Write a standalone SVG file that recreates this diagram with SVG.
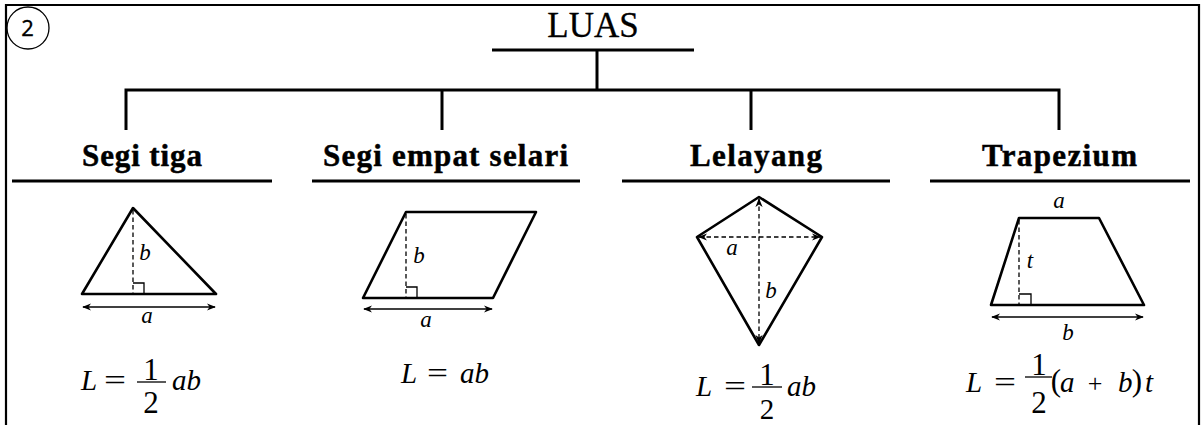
<svg xmlns="http://www.w3.org/2000/svg" width="1202" height="425" viewBox="0 0 1202 425">
<style>
.frame{fill:none;stroke:#000;stroke-width:2.2}
.conn{fill:none;stroke:#000;stroke-width:3}
.ul{stroke:#000;stroke-width:3.2}
.shape{fill:none;stroke:#000;stroke-width:2.6;stroke-linejoin:round}
.dash{fill:none;stroke:#000;stroke-width:1.3;stroke-dasharray:4.5,3}
.thin{fill:none;stroke:#000;stroke-width:1.3}
.head{font-family:"Liberation Serif","Times New Roman",serif;font-weight:bold;font-size:31px;text-anchor:middle;fill:#000;stroke:#000;stroke-width:0.5}
.title{font-family:"Liberation Serif","Times New Roman",serif;font-size:35px;text-anchor:middle;fill:#000;stroke:#000;stroke-width:0.3}
.var{font-family:"Liberation Serif","Times New Roman",serif;font-style:italic;font-size:23px;text-anchor:middle}
.f{font-family:"Liberation Serif","Times New Roman",serif;font-style:italic;font-size:29px}
.n{font-family:"Liberation Serif","Times New Roman",serif;font-size:31px;text-anchor:middle}
.eq{font-family:"Liberation Serif","Times New Roman",serif;font-size:30px}
.num{font-family:"Noto Sans","Open Sans",sans-serif;font-size:22px;text-anchor:middle;fill:#000;stroke:#000;stroke-width:0.3}
</style>
<defs>
<marker id="arr" viewBox="0 0 10 10" refX="9" refY="5" markerWidth="9" markerHeight="9" markerUnits="userSpaceOnUse" orient="auto-start-reverse">
<path d="M0,1 L10,5 L0,9 L3,5 z" fill="#000"/>
</marker>
</defs>
<rect width="1202" height="425" fill="#fff"/>
<path class="frame" d="M6,425 V5 H1199 V425"/>
<g id="badge">
<circle cx="28" cy="28" r="21" fill="none" stroke="#000" stroke-width="1.3"/>
<text class="num" x="27.5" y="35.5">2</text>
</g>
<g id="connectors">
<line class="conn" x1="597" y1="50" x2="597" y2="90"/>
<path class="conn" d="M126,130 V90 H1059 V130"/>
<line class="conn" x1="442" y1="90" x2="442" y2="130"/>
<line class="conn" x1="751" y1="90" x2="751" y2="130"/>
</g>
<g id="luas">
<text class="title" x="593" y="37">LUAS</text>
<line class="ul" x1="492" y1="50" x2="694" y2="50"/>
</g>
<g id="segi-tiga">
<text class="head" x="142" y="166" textLength="120" lengthAdjust="spacing">Segi tiga</text>
<line class="ul" x1="12" y1="181" x2="272" y2="181"/>
<path class="shape" d="M133,208 L216,294 L82,294 Z"/>
<line class="dash" x1="133" y1="210" x2="133" y2="294"/>
<path class="thin" d="M133,283 H144 V294"/>
<text class="var" x="145" y="260">b</text>
<line class="thin" x1="83" y1="307" x2="215" y2="307" marker-start="url(#arr)" marker-end="url(#arr)"/>
<text class="var" x="147" y="323">a</text>
<text class="f" x="81" y="390">L</text>
<text class="eq" x="104" y="390" textLength="22" lengthAdjust="spacingAndGlyphs">=</text>
<text class="n" x="151" y="380">1</text>
<line class="thin" x1="137" y1="382" x2="166" y2="382" stroke-width="1.5"/>
<text class="n" x="151" y="413">2</text>
<text class="f" x="172" y="390">ab</text>
</g>
<g id="segi-empat-selari">
<text class="head" x="445.5" y="166" textLength="245" lengthAdjust="spacing">Segi empat selari</text>
<line class="ul" x1="312" y1="181" x2="580" y2="181"/>
<path class="shape" d="M406,212 L536,212 L493,298 L363,298 Z"/>
<line class="dash" x1="406" y1="214" x2="406" y2="298"/>
<path class="thin" d="M406,287 H417 V298"/>
<text class="var" x="419" y="263">b</text>
<line class="thin" x1="364" y1="309" x2="492" y2="309" marker-start="url(#arr)" marker-end="url(#arr)"/>
<text class="var" x="426" y="327">a</text>
<text class="f" x="401" y="383">L</text>
<text class="eq" x="427" y="383" textLength="21" lengthAdjust="spacingAndGlyphs">=</text>
<text class="f" x="460" y="383">ab</text>
</g>
<g id="lelayang">
<text class="head" x="756" y="166" textLength="132" lengthAdjust="spacing">Lelayang</text>
<line class="ul" x1="622" y1="181" x2="890" y2="181"/>
<path class="shape" d="M759,197 L822,237 L759,345 L697,237 Z"/>
<line class="dash" x1="699" y1="237" x2="820" y2="237" marker-start="url(#arr)" marker-end="url(#arr)"/>
<line class="dash" x1="759" y1="199" x2="759" y2="343" marker-start="url(#arr)" marker-end="url(#arr)"/>
<text class="var" x="732" y="255">a</text>
<text class="var" x="771" y="298">b</text>
<text class="f" x="696" y="396">L</text>
<text class="eq" x="724" y="396" textLength="22" lengthAdjust="spacingAndGlyphs">=</text>
<text class="n" x="767" y="385">1</text>
<line class="thin" x1="752" y1="387" x2="782" y2="387" stroke-width="1.5"/>
<text class="n" x="767" y="419" style="font-size:29px">2</text>
<text class="f" x="787" y="396">ab</text>
</g>
<g id="trapezium">
<text class="head" x="1059.5" y="166" textLength="155" lengthAdjust="spacing">Trapezium</text>
<line class="ul" x1="930" y1="181" x2="1190" y2="181"/>
<path class="shape" d="M1019,218 L1099,218 L1144,305 L991,305 Z"/>
<line class="dash" x1="1019" y1="220" x2="1019" y2="305"/>
<path class="thin" d="M1019,294 H1031 V305"/>
<text class="var" x="1030" y="268">t</text>
<text class="var" x="1059" y="208">a</text>
<line class="thin" x1="992" y1="317" x2="1143" y2="317" marker-start="url(#arr)" marker-end="url(#arr)"/>
<text class="var" x="1068" y="340">b</text>
<text class="f" x="966" y="392">L</text>
<text class="eq" x="994" y="392" textLength="22" lengthAdjust="spacingAndGlyphs">=</text>
<text class="n" x="1039" y="375">1</text>
<line class="thin" x1="1025" y1="377" x2="1052" y2="377" stroke-width="1.5"/>
<text class="n" x="1039" y="413">2</text>
<text class="n" x="1056" y="391" style="font-size:31px">(</text>
<text class="f" x="1060" y="392">a</text>
<text class="n" x="1095" y="392" style="font-size:26px">+</text>
<text class="f" x="1118" y="392">b</text>
<text class="n" x="1137" y="391" style="font-size:31px">)</text>
<text class="f" x="1145" y="392">t</text>
</g>
</svg>
